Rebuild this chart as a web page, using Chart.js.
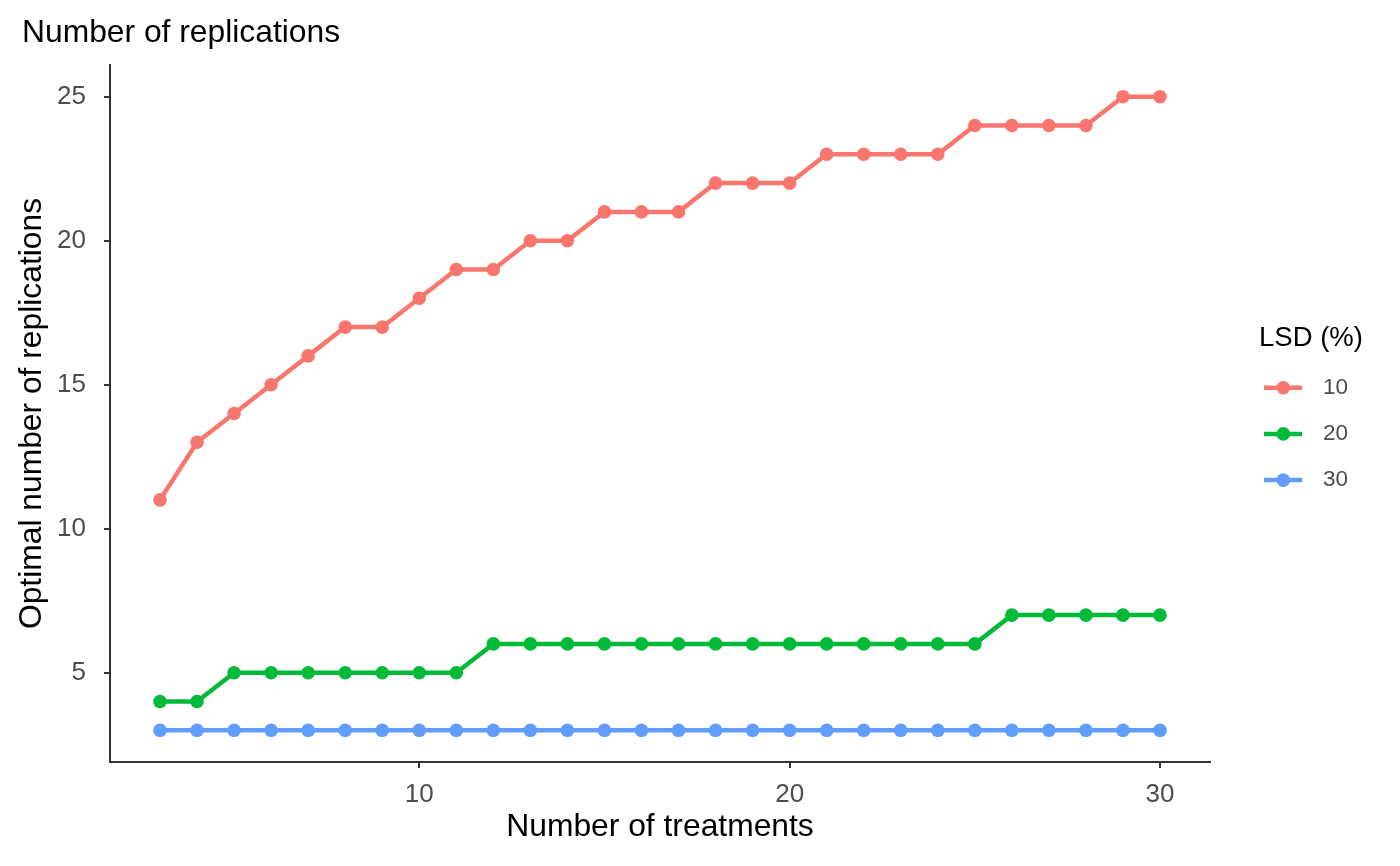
<!DOCTYPE html>
<html><head><meta charset="utf-8">
<script src="https://cdn.jsdelivr.net/npm/chart.js@4.4.1/dist/chart.umd.min.js"></script>
<style>html,body{margin:0;padding:0;background:#fff;} canvas{display:block;}</style>
</head><body>
<canvas id="c" width="1400" height="866"></canvas>
<script>
const treatments = [3,4,5,6,7,8,9,10,11,12,13,14,15,16,17,18,19,20,21,22,23,24,25,26,27,28,29,30];
const lsd10 = [11,13,14,15,16,17,17,18,19,19,20,20,21,21,21,22,22,22,23,23,23,23,24,24,24,24,25,25];
const lsd20 = [4,4,5,5,5,5,5,5,5,6,6,6,6,6,6,6,6,6,6,6,6,6,6,7,7,7,7,7];
const lsd30 = [3,3,3,3,3,3,3,3,3,3,3,3,3,3,3,3,3,3,3,3,3,3,3,3,3,3,3,3];
const seriesLabels = ['10','20','30'];
const seriesColors = ['#F8766D','#00BA38','#619CFF'];
const xTicks = [10,20,30];
const yTicks = [5,10,15,20,25];
const chartTitle = 'Number of replications';
const xTitle = 'Number of treatments';
const yTitle = 'Optimal number of replications';
const legendTitle = 'LSD (%)';

const FONT = '"Liberation Sans", Arial, sans-serif';
const seriesValues = [lsd10, lsd20, lsd30];

const datasets = seriesValues.map((vals, i) => ({
  label: seriesLabels[i],
  data: treatments.map((t, j) => ({x: t, y: vals[j]})),
  borderColor: seriesColors[i],
  backgroundColor: seriesColors[i],
  borderWidth: 4.5,
  pointRadius: 6.8,
  pointHoverRadius: 6.8,
  pointBorderWidth: 0,
  pointBackgroundColor: seriesColors[i],
  tension: 0,
  fill: false
}));

const legendPlugin = {
  id: 'ggLegend',
  afterDraw(chart) {
    const ctx = chart.ctx;
    ctx.save();
    ctx.textBaseline = 'middle';
    ctx.textAlign = 'left';
    ctx.fillStyle = '#000000';
    ctx.font = '27.5px ' + FONT;
    ctx.fillText(legendTitle, 1259, 338);
    chart.data.datasets.forEach((ds, i) => {
      const y = 387.7 + i * 46.2;
      ctx.strokeStyle = ds.borderColor;
      ctx.lineWidth = 4.5;
      ctx.beginPath();
      ctx.moveTo(1264, y);
      ctx.lineTo(1302, y);
      ctx.stroke();
      ctx.fillStyle = ds.borderColor;
      ctx.beginPath();
      ctx.arc(1283.3, y, 6.8, 0, Math.PI * 2);
      ctx.fill();
      ctx.fillStyle = '#4D4D4D';
      ctx.font = '22.5px ' + FONT;
      ctx.fillText(ds.label, 1323, y);
    });
    ctx.restore();
  }
};

new Chart(document.getElementById('c'), {
  type: 'line',
  data: {datasets},
  plugins: [legendPlugin],
  options: {
    responsive: false,
    animation: false,
    devicePixelRatio: 1,
    layout: {padding: {left: 22, right: 190, top: 0, bottom: 0}},
    plugins: {
      legend: {display: false},
      tooltip: {enabled: false},
      title: {
        display: true,
        text: chartTitle,
        align: 'start',
        color: '#000000',
        font: {family: FONT, size: 31.8, weight: 'normal', lineHeight: 1.2},
        padding: {top: 14, bottom: 12.84}
      }
    },
    scales: {
      x: {
        type: 'linear',
        min: 1.65,
        max: 31.35,
        afterBuildTicks: s => { s.ticks = xTicks.map(v => ({value: v})); },
        afterFit: s => { s.height = 104; },
        grid: {drawOnChartArea: false, drawTicks: true, tickLength: 6, color: '#333333', lineWidth: 2},
        border: {display: true, color: '#333333', width: 2},
        ticks: {color: '#4D4D4D', padding: 11, maxRotation: 0, font: {family: FONT, size: 26}},
        title: {display: true, text: xTitle, color: '#000000', font: {family: FONT, size: 31.8, lineHeight: 1.2}, padding: {top: 0, bottom: 19.4}}
      },
      y: {
        type: 'linear',
        min: 1.9,
        max: 26.1,
        afterBuildTicks: s => { s.ticks = yTicks.map(v => ({value: v})); },
        afterFit: s => { s.width = 88; },
        grid: {drawOnChartArea: false, drawTicks: true, tickLength: 6, color: '#333333', lineWidth: 2},
        border: {display: true, color: '#333333', width: 2},
        ticks: {color: '#4D4D4D', padding: 18, font: {family: FONT, size: 26}},
        title: {display: true, text: yTitle, color: '#000000', font: {family: FONT, size: 31.8, lineHeight: 1.2}, padding: {top: -8.6, bottom: 0}}
      }
    }
  }
});
</script>
</body></html>
